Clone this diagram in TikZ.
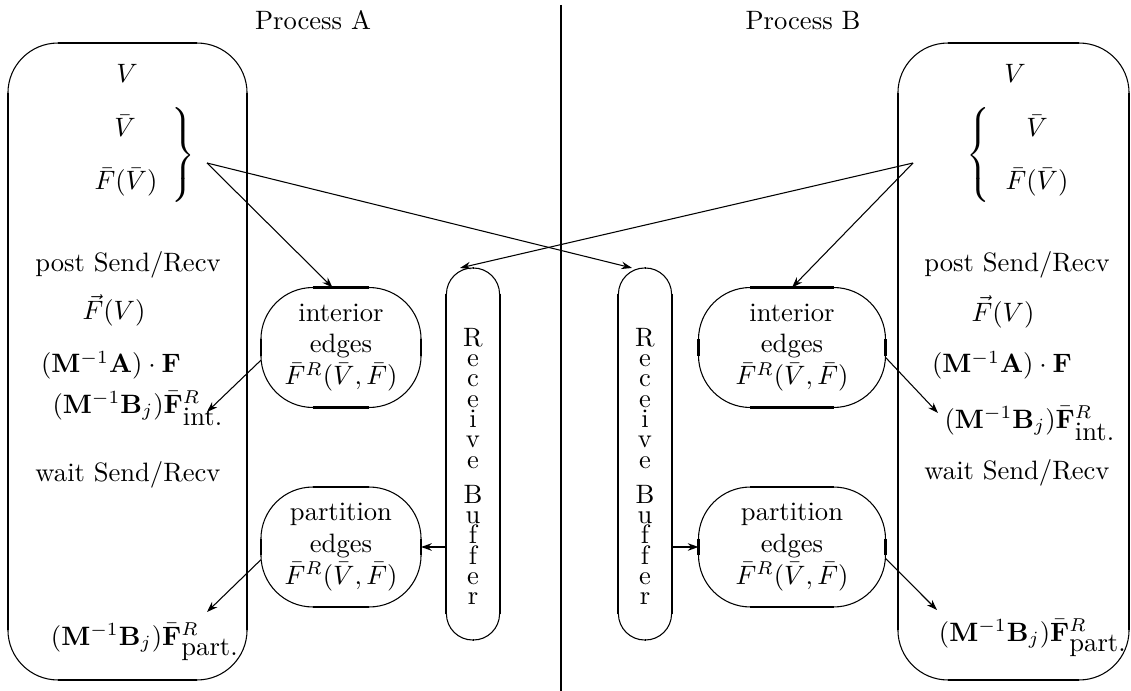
\documentclass[tikz,border=0pt]{standalone}
\usetikzlibrary{arrows.meta}
% straight parts of a rounded box are drawn heavier than its corners
\newcommand{\flatsides}[2]{%
  \draw[line width=0.8pt] ([xshift=#2]#1.north west) -- ([xshift=-#2]#1.north east);
  \draw[line width=0.8pt] ([xshift=#2]#1.south west) -- ([xshift=-#2]#1.south east);
  \draw[line width=0.8pt] ([yshift=-#2]#1.north west) -- ([yshift=#2]#1.south west);
  \draw[line width=0.8pt] ([yshift=-#2]#1.north east) -- ([yshift=#2]#1.south east);
}
\newcommand{\edgetext}[1]{#1\\edges\\$\bar F^R(\bar V,\bar F)$}

\begin{document}
\begin{tikzpicture}[x=0.376pt,y=-0.376pt,>={Stealth[length=4pt,width=2.8pt]},
  every node/.style={inner sep=0pt,outer sep=0pt}]
\tikzset{proc/.style={draw,line width=0.4pt,rounded corners=18.8pt,minimum height=239.5pt},
  edgebox/.style={draw,line width=0.4pt,rounded corners=19.5pt,minimum height=45.1pt,align=center},
  buffer/.style={draw,line width=0.4pt,rounded corners=9.9pt,minimum width=20pt,minimum height=139.9pt},
  vert/.style={align=center,font=\fontsize{10}{7.65}\selectfont},
  msg/.style={->,line width=0.4pt},
  feed/.style={->,line width=0.8pt}}
\useasboundingbox (0,0) rectangle (1131,691);

% the two processes
\draw[line width=0.7pt] (561,5) -- (561,691);
\node[anchor=base] (ptA) at (313,29) {Process A};
\node[anchor=base] (ptB) at (803,29) {Process B};

\node[proc,minimum width=89.9pt] (lproc) at (127.5,361.5) {};
\node[proc,minimum width=86.9pt] (rproc) at (1013.5,361.5) {};
\flatsides{lproc}{18.8pt}
\flatsides{rproc}{18.8pt}

% edge loops and buffers
\node[edgebox,minimum width=60.2pt] (lint) at (341,347.5) {\edgetext{interior}};
\node[edgebox,minimum width=60.2pt] (lpart) at (341,547) {\edgetext{partition}};
\node[edgebox,minimum width=70.3pt] (rint) at (792,347.5) {\edgetext{interior}};
\node[edgebox,minimum width=70.3pt] (rpart) at (792,547) {\edgetext{partition}};
\flatsides{lint}{19.5pt}
\flatsides{lpart}{19.5pt}
\flatsides{rint}{19.5pt}
\flatsides{rpart}{19.5pt}

\node[buffer] (lbuf) at (473,454) {};
\node[buffer] (rbuf) at (645,454) {};
\flatsides{lbuf}{9.9pt}
\flatsides{rbuf}{9.9pt}
\node[vert,anchor=north] (lbuftxt) at (473,328) {R\\e\\c\\e\\i\\v\\e\\[5.5pt]B\\u\\f\\f\\e\\r};
\node[vert,anchor=north] (rbuftxt) at (645,328) {R\\e\\c\\e\\i\\v\\e\\[5.5pt]B\\u\\f\\f\\e\\r};

% process A
\node[anchor=base] (lv) at (127,82) {$V$};
\node[anchor=base] (lvb) at (125,137) {$\bar V$};
\node[anchor=base] (lfv) at (126,190) {$\bar F(\bar V)$};
\node (lbr) at (182,155) {$\left.\vcenter{\hbox{\rule{0pt}{38pt}}}\right\}$};
\node[anchor=base] (lpost) at (128,271) {post Send/Recv};
\node[anchor=base] (lfvec) at (114,320) {$\vec F(V)$};
\node[anchor=base] (lma) at (111,373) {$(\mathbf{M}^{-1}\mathbf{A})\cdot\mathbf{F}$};
\node[anchor=base] (lmbi) at (138,413) {$(\mathbf{M}^{-1}\mathbf{B}_j)\bar{\mathbf{F}}^R_{\mbox{int.}}$};
\node[anchor=base] (lwait) at (128,481) {wait Send/Recv};
\node[anchor=base] (lmbp) at (145,645) {$(\mathbf{M}^{-1}\mathbf{B}_j)\bar{\mathbf{F}}^R_{\mbox{part.}}$};

% process B
\node[anchor=base] (rv) at (1015,82) {$V$};
\node[anchor=base] (rvb) at (1037,137) {$\bar V$};
\node[anchor=base] (rfv) at (1037,190) {$\bar F(\bar V)$};
\node (rbr) at (980,155) {$\left\{\vcenter{\hbox{\rule{0pt}{38pt}}}\right.$};
\node[anchor=base] (rpost) at (1017,271) {post Send/Recv};
\node[anchor=base] (rfvec) at (1003,321) {$\vec F(V)$};
\node[anchor=base] (rma) at (1002,373) {$(\mathbf{M}^{-1}\mathbf{A})\cdot\mathbf{F}$};
\node[anchor=base] (rmbi) at (1030,428) {$(\mathbf{M}^{-1}\mathbf{B}_j)\bar{\mathbf{F}}^R_{\mbox{int.}}$};
\node[anchor=base] (rwait) at (1017,480) {wait Send/Recv};
\node[anchor=base] (rmbp) at (1033,641) {$(\mathbf{M}^{-1}\mathbf{B}_j)\bar{\mathbf{F}}^R_{\mbox{part.}}$};

\coordinate (lsrc) at (207,163);
\coordinate (rsrc) at (913,163);
\coordinate (lintin) at (207,412);
\coordinate (lpartin) at (207,612);
\coordinate (rintin) at (938,413);
\coordinate (rpartin) at (937,610);

% messages
\draw[msg] (lsrc) -- (lint.98);
\draw[msg] (lsrc) -- (rbuf.94);
\draw[msg] (rsrc) -- (rint.north);
\draw[msg] (rsrc) -- (lbuf.94);
\draw[msg] (lint.189) -- (lintin);
\draw[msg] (lpart.189) -- (lpartin);
\draw[msg] (rint.-6) -- (rintin);
\draw[msg] (rpart.-7) -- (rpartin);
\draw[feed] (lbuf.west |- lpart.east) -- (lpart.east);
\draw[feed] (rbuf.east |- rpart.west) -- (rpart.west);
\end{tikzpicture}
\end{document}
